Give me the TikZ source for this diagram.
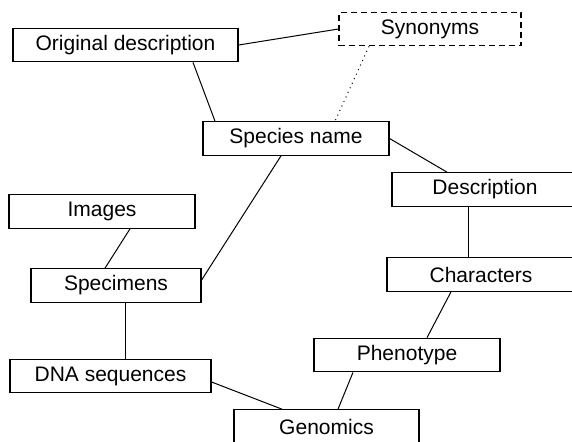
\documentclass[tikz,border=0pt]{standalone}
\usepackage{fontspec}
\setmainfont{Liberation Sans}
\usetikzlibrary{calc}

\begin{document}
\begin{tikzpicture}[x=0.5pt, y=-0.5pt,
    box/.style={draw, line width=0.6pt, rectangle, inner sep=0pt,
      minimum height=16.75pt, font=\fontsize{10.5}{12}\selectfont},
    link/.style={line width=0.5pt}]

    \useasboundingbox (0,0) rectangle (572,441);

    \node[box, minimum width=112.5pt] (od) at (125.5,45) {Original description};

    \node[box, minimum width=91pt, dash pattern=on 3pt off 2pt] (syn) at (430,29) {Synonyms};

    \node[box, minimum width=93pt] (species) at (296,138.5) {Species name};

    \node[box, minimum width=93pt] (desc) at (485,189.5) {Description};

    \node[box, minimum width=93pt] (images) at (102,211.5) {Images};

    \node[box, minimum width=94pt] (chars) at (481,274.5) {Characters};

    \node[box, minimum width=85pt] (specimens) at (116,285.5) {Specimens};

    \node[box, minimum width=93pt] (pheno) at (407,355) {Phenotype};

    \node[box, minimum width=100.5pt] (dna) at (110.5,376) {DNA sequences};

    \node[box, minimum width=92.5pt] (genomics) at (326.5,426.5) {Genomics};



    \draw[link] (od.east) -- (syn.west);

    \draw[link] ($(od.south)+(67.5,0)$) -- ($(species.north)+(-81,0)$);

    \draw[link, dotted] ($(syn.south)+(-61,0)$) -- ($(species.north)+(39,0)$);

    \draw[link] (species.east) -- ($(desc.north)+(-38,0)$);

    \draw[link] ($(species.south)+(-15,0)$) -- ($(specimens.east)+(0,-5.5)$);

    \draw[link] ($(images.south)+(28,0)$) -- ($(specimens.north)+(-11,0)$);

    \draw[link] ($(specimens.south)+(9,0)$) -- ($(dna.north)+(14.5,0)$);

    \draw[link] ($(dna.east)+(0,6)$) -- ($(genomics.north)+(-44.5,0)$);

    \draw[link] ($(desc.south)+(-17,0)$) -- ($(chars.north)+(-13,0)$);

    \draw[link] ($(chars.south)+(-30,0)$) -- ($(pheno.north)+(20,0)$);

    \draw[link] ($(pheno.south)+(-54,0)$) -- ($(genomics.north)+(11.5,0)$);

  \end{tikzpicture}
\end{document}
